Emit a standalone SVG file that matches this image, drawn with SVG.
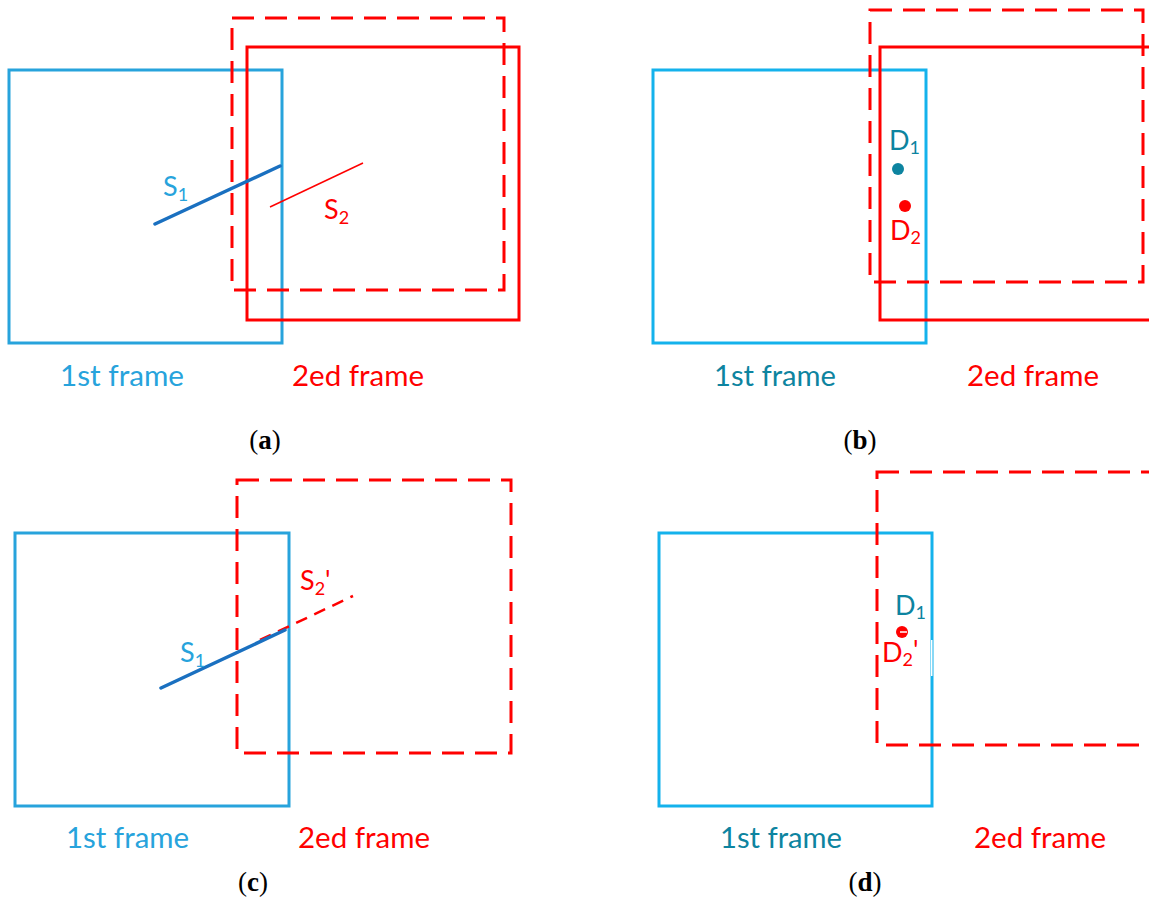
<svg xmlns="http://www.w3.org/2000/svg" width="1149" height="900" viewBox="0 0 1149 900">
  <style>
    .lbl { font-family: Lato, "Open Sans", "Liberation Sans", sans-serif; font-size: 29px; }
    .sym { font-family: Lato, "Open Sans", "Liberation Sans", sans-serif; font-size: 27px; }
    .sub { font-size: 18px; }
    .cap { font-family: "Liberation Serif", serif; font-size: 27px; text-anchor: middle; }
    .cap tspan { font-weight: bold; }
    .f1a { fill: none; stroke: #27a3dc; stroke-width: 3; }
    .f1b { fill: none; stroke: #14b2ec; stroke-width: 3; }
    .f2 { fill: none; stroke: #ff0000; stroke-width: 3; }
    .f2d { fill: none; stroke: #ff0000; stroke-width: 3; stroke-dasharray: 22 11; }
    .seg1 { stroke: #1a70c0; stroke-width: 3.5; stroke-linecap: round; }
    .blue { fill: #27a3dc; }
    .teal { fill: #0d84a0; }
    .red { fill: #ff0000; }
  </style>

  <!-- panel (a): segment S1 in the first frame, S2 in the second frame -->
  <g id="panel-a">
    <rect id="a-frame1" class="f1a" x="9" y="70" width="273" height="273"/>
    <rect id="a-frame2-prev" class="f2d" x="232" y="18" width="272" height="272"/>
    <rect id="a-frame2" class="f2" x="247" y="47" width="272" height="273"/>
    <g id="a-segments">
      <line class="seg1" x1="155" y1="224" x2="280" y2="166"/>
      <line x1="270" y1="207" x2="363" y2="163" stroke="#ff0000" stroke-width="1.5"/>
    </g>
    <text class="sym blue" x="163" y="196">S<tspan class="sub" dy="5">1</tspan></text>
    <text class="sym red" x="324" y="219">S<tspan class="sub" dy="5">2</tspan></text>
    <text class="lbl blue" x="60" y="386" textLength="124" lengthAdjust="spacingAndGlyphs">1st frame</text>
    <text class="lbl red" x="292" y="386" textLength="132" lengthAdjust="spacingAndGlyphs">2ed frame</text>
    <text class="cap" x="265" y="449">(<tspan>a</tspan>)</text>
  </g>

  <!-- panel (b): points D1 and D2 -->
  <g id="panel-b">
    <rect id="b-frame1" class="f1b" x="653" y="70" width="273" height="273"/>
    <rect id="b-frame2-prev" class="f2d" x="870" y="10" width="273" height="272"/>
    <rect id="b-frame2" class="f2" x="880" y="47" width="275" height="273"/>
    <circle class="teal" cx="898" cy="169" r="6"/>
    <circle class="red" cx="905" cy="206" r="6"/>
    <text class="sym teal" x="889" y="150">D<tspan class="sub" dy="4">1</tspan></text>
    <text class="sym red" x="890" y="240">D<tspan class="sub" dy="4">2</tspan></text>
    <text class="lbl teal" x="714" y="386" textLength="122" lengthAdjust="spacingAndGlyphs">1st frame</text>
    <text class="lbl red" x="967" y="386" textLength="132" lengthAdjust="spacingAndGlyphs">2ed frame</text>
    <text class="cap" x="860" y="449">(<tspan>b</tspan>)</text>
  </g>

  <!-- panel (c): S1 and the transformed segment S2' -->
  <g id="panel-c">
    <rect id="c-frame1" class="f1a" x="15" y="533" width="274" height="273"/>
    <rect id="c-frame2" class="f2d" x="237" y="480" width="274" height="273"/>
    <g id="c-segments">
      <line x1="260" y1="640" x2="353" y2="596" stroke="#ff0000" stroke-width="2.5" stroke-dasharray="12 8"/>
      <line class="seg1" x1="161" y1="688" x2="285" y2="630"/>
    </g>
    <text class="sym blue" x="180" y="662">S<tspan class="sub" dy="5">1</tspan></text>
    <text class="sym red" x="300" y="590">S<tspan class="sub" dy="5">2</tspan><tspan dy="-5">'</tspan></text>
    <text class="lbl blue" x="66" y="848" textLength="123" lengthAdjust="spacingAndGlyphs">1st frame</text>
    <text class="lbl red" x="298" y="848" textLength="132" lengthAdjust="spacingAndGlyphs">2ed frame</text>
    <text class="cap" x="253" y="891">(<tspan>c</tspan>)</text>
  </g>

  <!-- panel (d): D1 coincides with the transformed point D2' -->
  <g id="panel-d">
    <rect id="d-frame1" class="f1b" x="659" y="533" width="273" height="273"/>
    <rect x="931" y="640" width="3" height="36" fill="#ffffff"/>
    <line x1="933" y1="640" x2="933" y2="676" stroke="#14b2ec" stroke-width="1"/>
    <rect id="d-frame2" class="f2d" x="877" y="472" width="275" height="273"/>
    <circle class="red" cx="902" cy="632" r="6"/>
    <line x1="900" y1="632" x2="907" y2="632" stroke="#ffffff" stroke-width="1.5"/>
    <text class="sym teal" x="895" y="615">D<tspan class="sub" dy="4">1</tspan></text>
    <text class="sym red" x="882" y="662">D<tspan class="sub" dy="4">2</tspan><tspan dy="-6">'</tspan></text>
    <text class="lbl teal" x="720" y="848" textLength="122" lengthAdjust="spacingAndGlyphs">1st frame</text>
    <text class="lbl red" x="974" y="848" textLength="132" lengthAdjust="spacingAndGlyphs">2ed frame</text>
    <text class="cap" x="865" y="891">(<tspan>d</tspan>)</text>
  </g>
</svg>
